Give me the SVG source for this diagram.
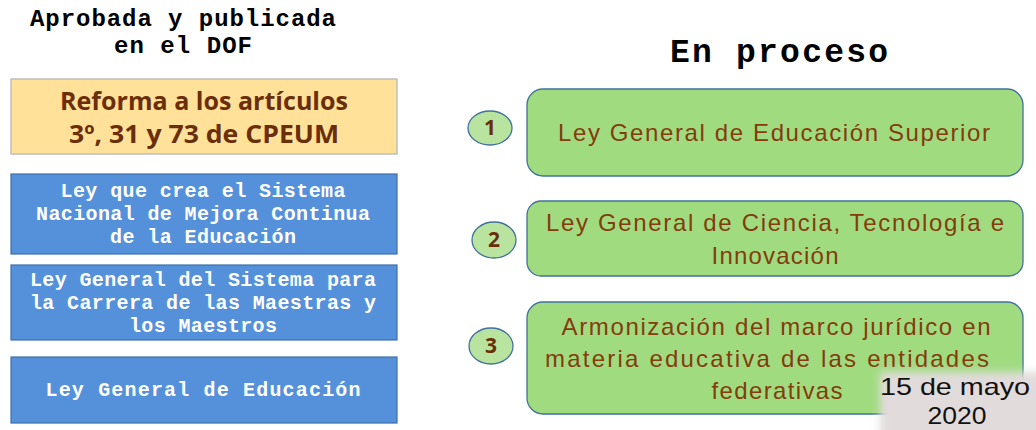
<svg xmlns="http://www.w3.org/2000/svg" width="1036" height="430" viewBox="0 0 1036 430">
<defs>
<style>
.hdr{font-family:"Liberation Mono","Courier New",monospace;font-weight:bold;fill:#000;text-anchor:middle}
.blue rect{fill:#5591DB;stroke:#3D6FA8;stroke-width:1.2}
.blue text{font-family:"Liberation Mono","Courier New",monospace;font-weight:bold;font-size:20px;fill:#fff;text-anchor:middle}
.orange rect{fill:#FFE199;stroke:#BFBFBF;stroke-width:1.5}
.orange text{font-family:"Open Sans","Liberation Sans",sans-serif;font-weight:bold;font-size:25px;fill:#6B2E0A;text-anchor:middle}
.green rect{fill:#A0DB80;stroke:#41719C;stroke-width:1.3}
.green text{font-family:"Liberation Sans",Arial,sans-serif;font-size:24px;fill:#843C0C;text-anchor:middle}
.num ellipse{fill:#B8E4A0;stroke:#41719C;stroke-width:1.3}
.num text{font-family:"Open Sans","Liberation Sans",sans-serif;font-weight:bold;font-size:21px;fill:#6B2E0A;text-anchor:middle}
.date text{font-family:"Liberation Sans",Arial,sans-serif;font-size:24px;fill:#111;text-anchor:middle}
</style>
<filter id="soft" x="-10%" y="-20%" width="120%" height="140%">
<feGaussianBlur stdDeviation="4"/>
</filter>
</defs>
<rect width="1036" height="430" fill="#fff"/>

<g id="title-left">
<text class="hdr" x="183" y="26" font-size="24" textLength="306" lengthAdjust="spacing">Aprobada y publicada</text>
<text class="hdr" x="183" y="53" font-size="24" textLength="138" lengthAdjust="spacing">en el DOF</text>
</g>

<g id="title-right">
<text class="hdr" x="779" y="62" font-size="33" textLength="218" lengthAdjust="spacing">En proceso</text>
</g>

<g id="reforma" class="orange">
<rect x="11" y="79" width="386" height="75"/>
<text x="204" y="110" textLength="288" lengthAdjust="spacingAndGlyphs">Reforma a los artículos</text>
<text x="204" y="143" textLength="270" lengthAdjust="spacingAndGlyphs">3º, 31 y 73 de CPEUM</text>
</g>

<g id="ley-sistema-nacional" class="blue">
<rect x="11" y="174" width="386" height="80"/>
<text x="203" y="197" textLength="285" lengthAdjust="spacing">Ley que crea el Sistema</text>
<text x="203" y="220" textLength="334" lengthAdjust="spacing">Nacional de Mejora Continua</text>
<text x="203" y="243" textLength="186" lengthAdjust="spacing">de la Educación</text>
</g>

<g id="ley-carrera-maestros" class="blue">
<rect x="11" y="265" width="386" height="75"/>
<text x="203" y="286" textLength="346" lengthAdjust="spacing">Ley General del Sistema para</text>
<text x="203" y="309" textLength="346" lengthAdjust="spacing">la Carrera de las Maestras y</text>
<text x="203" y="332" textLength="148" lengthAdjust="spacing">los Maestros</text>
</g>

<g id="ley-general-educacion" class="blue">
<rect x="11" y="357" width="386" height="66"/>
<text x="203" y="396" textLength="315" lengthAdjust="spacing">Ley General de Educación</text>
</g>

<g id="num1" class="num">
<ellipse cx="490" cy="128" rx="22" ry="17"/>
<text x="490" y="135">1</text>
</g>
<g id="num2" class="num">
<ellipse cx="494" cy="240" rx="22" ry="18"/>
<text x="494" y="247">2</text>
</g>
<g id="num3" class="num">
<ellipse cx="491" cy="346" rx="22" ry="18"/>
<text x="491" y="353">3</text>
</g>

<g id="les" class="green">
<rect x="527" y="89" width="496" height="87" rx="16"/>
<text x="774" y="141" textLength="432" lengthAdjust="spacing">Ley General de Educación Superior</text>
</g>

<g id="lgcti" class="green">
<rect x="527" y="201" width="496" height="75" rx="14"/>
<text x="775" y="231" textLength="458" lengthAdjust="spacing">Ley General de Ciencia, Tecnología e</text>
<text x="775" y="264" textLength="127" lengthAdjust="spacing">Innovación</text>
</g>

<g id="armonizacion" class="green">
<rect x="527" y="302" width="496" height="112" rx="16"/>
<text x="776" y="335" textLength="429" lengthAdjust="spacing">Armonización del marco jurídico en</text>
<text x="767" y="367" textLength="444" lengthAdjust="spacing">materia educativa de las entidades</text>
<text x="777" y="399" textLength="131" lengthAdjust="spacing">federativas</text>
</g>

<g id="fecha" class="date">
<rect x="880" y="372" width="170" height="70" fill="#E2DBDB" filter="url(#soft)"/>
<text x="955" y="395" textLength="150" lengthAdjust="spacingAndGlyphs">15 de mayo</text>
<text x="957" y="424" textLength="59" lengthAdjust="spacingAndGlyphs">2020</text>
</g>
</svg>
